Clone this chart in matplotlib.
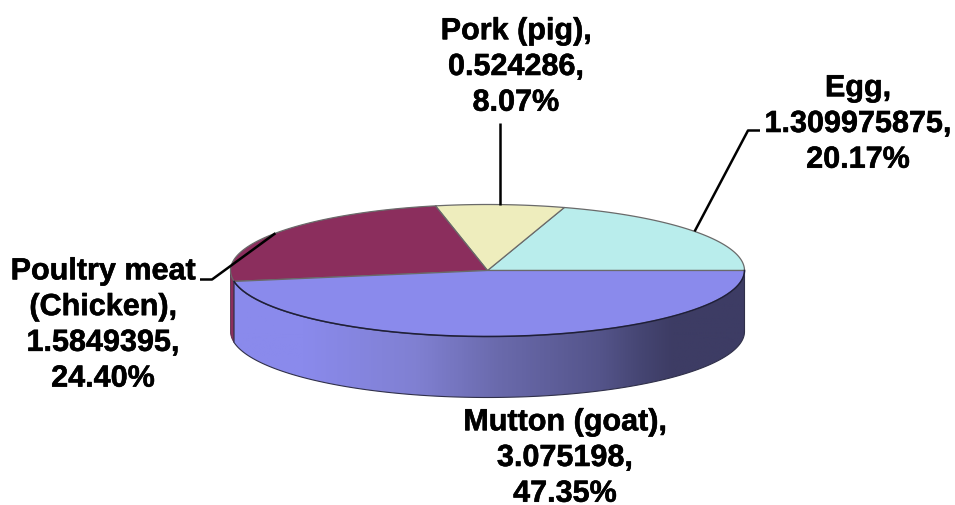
# pie3d_meat.py
import matplotlib
matplotlib.use("Agg")
import matplotlib.pyplot as plt
import matplotlib.patheffects as pe
import numpy as np
from matplotlib.colors import LinearSegmentedColormap
from matplotlib.patches import Polygon

names = ["Egg", "Pork (pig)", "Poultry meat\n(Chicken)", "Mutton (goat)"]
values = [1.309975875, 0.524286, 1.5849395, 3.075198]
value_labels = ["1.309975875", "0.524286", "1.5849395", "3.075198"]
percent_labels = ["20.17%", "8.07%", "24.40%", "47.35%"]
colors = ["#B9EDEC", "#EEEDBD", "#8B2E5D", "#8A8AEC"]

# ellipse of the pie top, in pixels
CX, CY = 487.5, 270.5
RX, RY = 257, 66
DEPTH = 61

plt.rcParams["font.family"] = ["Liberation Sans", "DejaVu Sans"]

fig = plt.figure(figsize=(9.55, 5.05), dpi=100)
ax = fig.add_axes([0, 0, 1, 1])


def arc(a0, a1, dy=0, n=200):
    t = np.radians(np.linspace(a0, a1, n))
    return np.column_stack([CX + RX * np.cos(t), CY - RY * np.sin(t) + dy])


fractions = np.array(values) / sum(values)
edges = np.concatenate([[0], np.cumsum(fractions)]) * 360
mids = (edges[:-1] + edges[1:]) / 2

# -------------------------------------------------------------
# Side wall
# -------------------------------------------------------------
wall_left = np.vstack([arc(180, edges[3]), arc(edges[3], 180, DEPTH)])
ax.add_patch(Polygon(wall_left, closed=True, facecolor=colors[2],
                     edgecolor="#55304A", linewidth=0.6, zorder=1))

wall_front = np.vstack([arc(edges[3], 360), arc(360, edges[3], DEPTH)])
wall_patch = Polygon(wall_front, closed=True, facecolor="none",
                     edgecolor="#30304A", linewidth=0.8, zorder=3)
ax.add_patch(wall_patch)

shade = LinearSegmentedColormap.from_list("shade", [
    (0.00, "#8A8AEC"),
    (0.14, "#8A8AEC"),
    (0.36, "#8080D2"),
    (0.52, "#6A6AAC"),
    (0.72, "#54548A"),
    (0.80, "#454572"),
    (0.86, "#3D3C64"),
    (1.00, "#3D3C64"),
])
img = ax.imshow(np.linspace(0, 1, 512).reshape(1, -1), cmap=shade, vmin=0, vmax=1,
                extent=[CX - RX, CX + RX, CY + RY + DEPTH, CY], aspect="auto", zorder=2)
img.set_clip_path(Polygon(wall_front, closed=True, transform=ax.transData))

# -------------------------------------------------------------
# Top slices
# -------------------------------------------------------------
for i, color in enumerate(colors):
    pts = np.vstack([[[CX, CY]], arc(edges[i], edges[i + 1])])
    ax.add_patch(Polygon(pts, closed=True, facecolor=color, edgecolor="#6A6A6A",
                         linewidth=0.9, joinstyle="round", zorder=4))

# darker rim along the front of the top face
front = arc(edges[3], 360)
ax.plot(front[:, 0], front[:, 1], color="#1E1E3C", linewidth=1.1, zorder=5)

# -------------------------------------------------------------
# Leader lines, anchored on the slice mid angles
# -------------------------------------------------------------
anchors = [arc(m, m, n=1)[0] for m in mids[:3]]
leader_kw = dict(color="black", linewidth=1.8, zorder=6, solid_capstyle="butt")
ax.plot([760, 748, anchors[0][0]], [130.5, 130.5, anchors[0][1]], **leader_kw)
ax.plot([anchors[1][0], anchors[1][0]], [123, anchors[1][1]], **leader_kw)
ax.plot([200, 212, anchors[2][0]], [279.5, 279.5, anchors[2][1]], **leader_kw)

# -------------------------------------------------------------
# Labels
# -------------------------------------------------------------
label_pos = [(858, 124), (516, 67), (103, 325), (565, 458)]
for name, val, pct, (x, y) in zip(names, value_labels, percent_labels, label_pos):
    ax.text(x, y, f"{name},\n{val},\n{pct}", ha="center", va="center",
            ma="center", fontsize=22, fontweight="bold", color="black",
            linespacing=1.25, zorder=7,
            path_effects=[pe.withStroke(linewidth=0.4, foreground="black")])

ax.set_xlim(0, 955)
ax.set_ylim(505, 0)
ax.axis("off")

fig.savefig("out.png", dpi=100)
